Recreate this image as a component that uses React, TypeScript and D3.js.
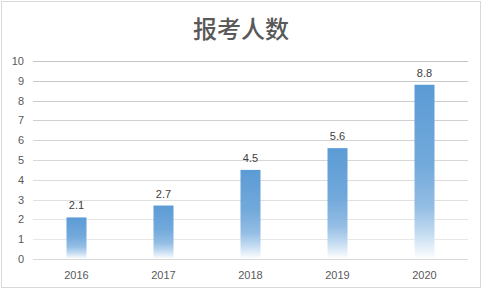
import React from "react";
import * as d3 from "d3";

const categories = ["2016", "2017", "2018", "2019", "2020"];
const values = [2.1, 2.7, 4.5, 5.6, 8.8];
const yTicks = [0, 1, 2, 3, 4, 5, 6, 7, 8, 9, 10];
const title = "报考人数";

const W = 482;
const H = 289;
const plotLeft = 33;
const plotRight = 468;
const plotTop = 61;
const plotBottom = 259;

export default function App() {
  const x = d3.scaleBand<string>().domain(categories).range([plotLeft, plotRight]).paddingInner(0).paddingOuter(0);
  const y = d3.scaleLinear().domain([0, 10]).range([plotBottom, plotTop]);
  const barW = 20;
  const gridColor = d3.scaleLinear<string>().domain([0, 10]).range(["#ececec", "#c4c4c4"]);
  const font = "'Liberation Sans', Arial, sans-serif";
  return (
    <svg width={W} height={H} style={{ position: "absolute", left: 0, top: 0 }}>
      <defs>
        <linearGradient id="barGrad" x1="0" y1="0" x2="0" y2="1">
          <stop offset="0" stopColor="#5b9bd5" />
          <stop offset="0.45" stopColor="#72a9db" />
          <stop offset="0.7" stopColor="#93bde4" />
          <stop offset="0.85" stopColor="#c2dbf1" />
          <stop offset="1" stopColor="#ffffff" />
        </linearGradient>
      </defs>
      <rect x={0} y={0} width={W} height={H} fill="#ffffff" />
      <rect x={1.5} y={1.5} width={W - 3} height={H - 3} fill="none" stroke="#d9d9d9" strokeWidth={1} />
      <text x={W / 2} y={38} textAnchor="middle" fontFamily="'Noto Sans CJK SC', sans-serif" fontSize={24} fontWeight={500} fill="#595959">
        {title}
      </text>
      {yTicks.map((t) => (
        <g key={t}>
          {t > 0 && (
            <line x1={plotLeft} x2={plotRight} y1={Math.round(y(t)) + 0.5} y2={Math.round(y(t)) + 0.5} stroke={gridColor(t)} strokeWidth={1} />
          )}
          <text x={24} y={y(t) + 4} textAnchor="end" fontFamily={font} fontSize={11} fill="#595959">
            {t}
          </text>
        </g>
      ))}
      {categories.map((c, i) => {
        const cx = (x(c) as number) + x.bandwidth() / 2;
        return (
          <g key={c}>
            <rect x={cx - barW / 2} y={y(values[i])} width={barW} height={plotBottom - y(values[i])} fill="url(#barGrad)" />
            <text x={cx} y={y(values[i]) - 8} textAnchor="middle" fontFamily={font} fontSize={11} fill="#404040">
              {values[i]}
            </text>
            <text x={cx} y={279} textAnchor="middle" fontFamily={font} fontSize={11} fill="#595959">
              {c}
            </text>
          </g>
        );
      })}
      <line x1={plotLeft} x2={plotRight} y1={plotBottom + 0.5} y2={plotBottom + 0.5} stroke="#d9d9d9" strokeWidth={1} />
    </svg>
  );
}
